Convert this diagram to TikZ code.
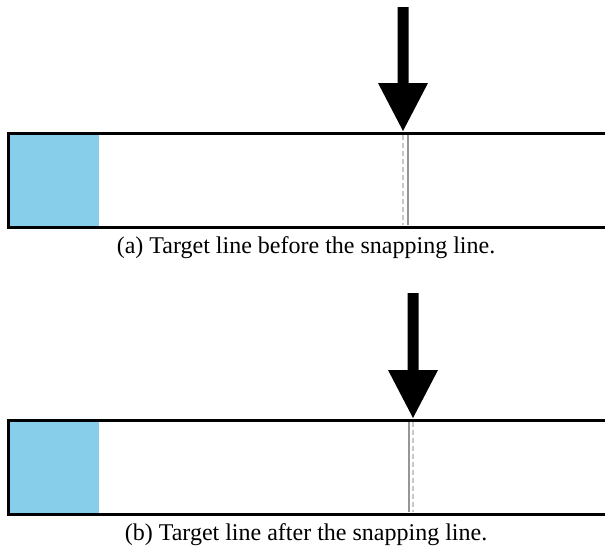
\documentclass[tikz,border=0pt]{standalone}
\usepackage{fontspec}
\setmainfont{Liberation Serif}
\definecolor{fillblue}{RGB}{135,206,235}
\definecolor{solidgray}{RGB}{150,150,150}
\definecolor{dashgray}{RGB}{200,200,200}
\begin{document}
\begin{tikzpicture}[x=1pt,y=-1pt,
  barframe/.style={line width=3pt,line join=miter},
  snapline/.style={line width=2pt,solidgray},
  targetline/.style={line width=2pt,dashgray,dash pattern=on 5pt off 3pt},
  caption/.style={font=\fontsize{24}{28}\selectfont,inner sep=0pt}]
\useasboundingbox (0,0) rectangle (605,550);
% arrow: shaft half width 5.5, head half width 25, head length 48
\newcommand{\downarrowshape}[3]{% x, top y, tip y
  \fill (#1-5.5,#2) -- (#1+5.5,#2) -- (#1+5.5,#3-48) -- (#1+25,#3-48)
    -- (#1,#3) -- (#1-25,#3-48) -- (#1-5.5,#3-48) -- cycle;}

% ---- panel (a)
\fill[fillblue] (9.5,134.5) rectangle (99,225.5);
\draw[targetline] (403,135) -- (403,225);
\draw[snapline] (408,135) -- (408,225);
\draw[barframe] (606,133) -- (8,133) -- (8,227) -- (606,227);
\downarrowshape{403}{7}{131}
\node[caption] (capa) at (306,248) {(a) Target line before the snapping line.};

% ---- panel (b)
\fill[fillblue] (9.5,421.5) rectangle (99,512.5);
\draw[targetline] (413,422) -- (413,512);
\draw[snapline] (409,422) -- (409,512);
\draw[barframe] (606,420) -- (8,420) -- (8,514) -- (606,514);
\downarrowshape{413}{293}{418}
\node[caption] (capb) at (306,535) {(b) Target line after the snapping line.};
\end{tikzpicture}
\end{document}
